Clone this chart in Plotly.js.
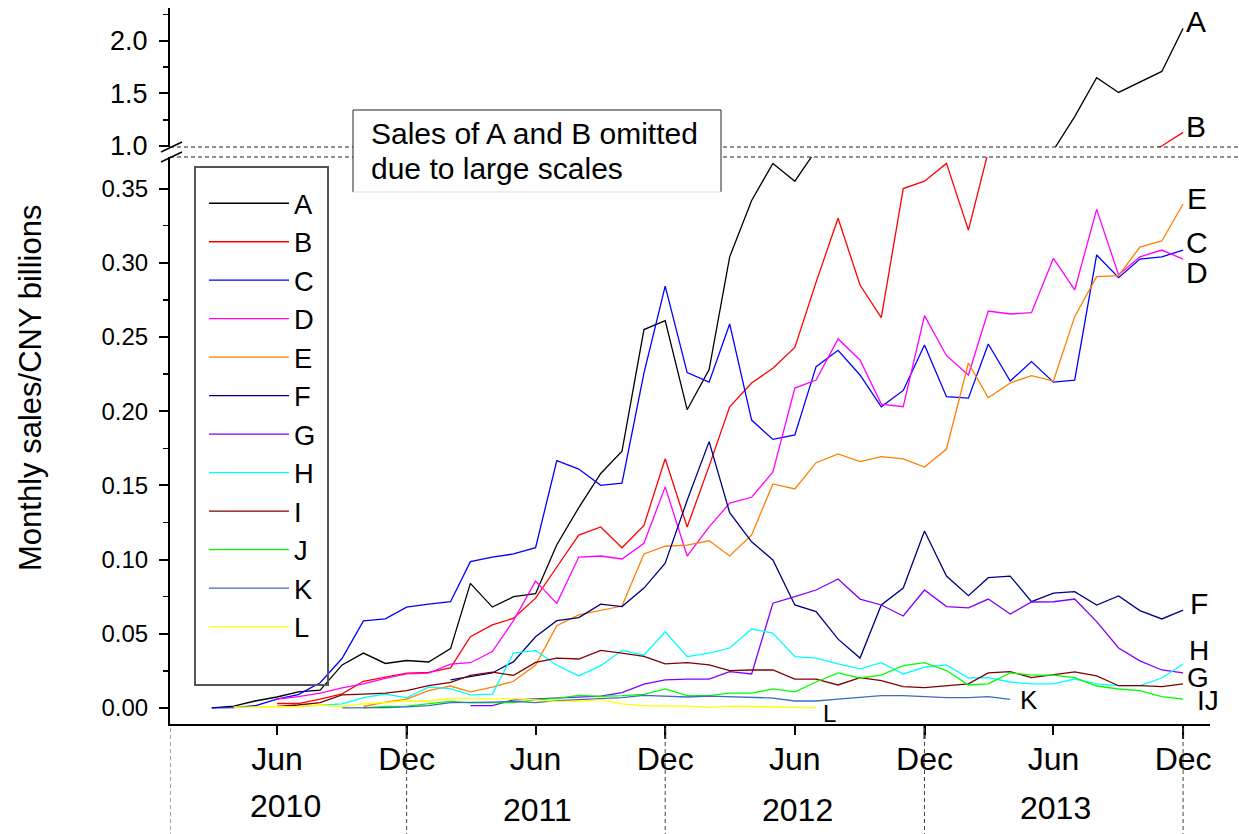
<!DOCTYPE html>
<html>
<head>
<meta charset="utf-8">
<script src="https://cdn.plot.ly/plotly-3.0.1.min.js"></script>
<style>
  html, body { margin: 0; padding: 0; background: #fff; }
  #chart { width: 1239px; height: 834px; }
</style>
</head>
<body>
<div id="chart"></div>
<script>
// ---- Data (monthly, Mar 2010 .. Dec 2013), CNY billions ----
const months = [
  "2010-03","2010-04","2010-05","2010-06","2010-07","2010-08","2010-09","2010-10","2010-11","2010-12",
  "2011-01","2011-02","2011-03","2011-04","2011-05","2011-06","2011-07","2011-08","2011-09","2011-10","2011-11","2011-12",
  "2012-01","2012-02","2012-03","2012-04","2012-05","2012-06","2012-07","2012-08","2012-09","2012-10","2012-11","2012-12",
  "2013-01","2013-02","2013-03","2013-04","2013-05","2013-06","2013-07","2013-08","2013-09","2013-10","2013-11","2013-12"
];
const seriesNames = ["A","B","C","D","E","F","G","H","I","J","K","L"];
const seriesA = [0.000,0.0013,0.0047,0.0074,0.0108,0.012,0.029,0.037,0.030,0.032,
  0.031,0.040,0.084,0.068,0.075,0.077,0.110,0.135,0.158,0.173,0.255,0.261,
  0.201,0.228,0.304,0.342,0.367,0.355,0.376,0.43,0.47,0.52,0.57,0.63,
  0.66,0.72,0.78,0.84,0.90,0.96,1.28,1.65,1.51,1.61,1.71,2.12];
const seriesB = [null,null,null,0.003,0.003,0.006,0.0095,0.018,0.021,0.0235,
  0.024,0.027,0.048,0.056,0.0605,0.074,0.095,0.1165,0.122,0.108,0.123,0.168,
  0.122,0.163,0.203,0.219,0.229,0.243,0.287,0.330,0.285,0.263,0.350,0.355,
  0.367,0.322,0.375,0.45,0.52,0.59,0.66,0.74,0.83,0.93,1.00,1.13];
const seriesC = [0.000,0.0003,0.0015,0.006,0.009,0.017,0.0335,0.0587,0.060,0.068,
  0.070,0.0716,0.0986,0.1017,0.1038,0.108,0.1667,0.161,0.150,0.1515,0.2256,0.2843,
  0.226,0.2196,0.2588,0.194,0.181,0.184,0.230,0.241,0.2244,0.203,0.214,0.2446,
  0.2098,0.2088,0.2453,0.2203,0.2334,0.2196,0.221,0.3053,0.290,0.3025,0.304,0.3086];
const seriesD = [null,null,null,0.006,0.0076,0.010,0.0135,0.0162,0.020,0.023,
  0.0235,0.0296,0.0305,0.038,0.059,0.0855,0.0705,0.1017,0.1024,0.1004,0.111,0.149,
  0.1024,0.122,0.138,0.142,0.159,0.2156,0.221,0.2487,0.2345,0.2048,0.203,0.2644,
  0.2374,0.2244,0.2675,0.2655,0.2664,0.303,0.2817,0.336,0.2918,0.304,0.3086,0.3025];
const seriesE = [null,null,null,null,null,null,null,0.001,0.004,0.006,
  0.0117,0.0148,0.0108,0.014,0.018,0.029,0.0555,0.0627,0.0656,0.0687,0.1038,0.109,
  0.1098,0.1127,0.1024,0.1166,0.151,0.1476,0.1653,0.1712,0.166,0.1694,0.1678,0.1624,
  0.1745,0.2325,0.209,0.219,0.224,0.2203,0.2637,0.2907,0.2913,0.3106,0.3147,0.3396];
const seriesF = [null,null,null,null,null,null,null,null,null,null,
  null,0.019,0.021,0.0236,0.0312,0.048,0.0588,0.0609,0.070,0.0683,0.0808,0.0975,
  0.140,0.1795,0.1316,0.112,0.0997,0.0694,0.065,0.0464,0.0336,0.0694,0.0808,0.1193,
  0.0889,0.0757,0.0878,0.0889,0.0716,0.0774,0.0784,0.0694,0.0755,0.0656,0.060,0.066];
const seriesG = [null,null,null,null,null,null,null,null,null,null,
  null,null,0.0016,0.0016,0.0054,0.006,0.0065,0.0076,0.008,0.0103,0.016,0.0189,
  0.0195,0.0195,0.0245,0.0229,0.0706,0.075,0.0795,0.0869,0.0734,0.0694,0.062,0.0795,
  0.0683,0.0674,0.0734,0.0633,0.0714,0.0716,0.0734,0.0582,0.0404,0.0317,0.0256,0.0236];
const seriesH = [null,null,null,null,0.001,0.002,0.0027,0.007,0.0094,0.0068,
  0.014,0.013,0.0088,0.0094,0.037,0.0388,0.0288,0.0216,0.0285,0.0388,0.0357,0.0514,
  0.0346,0.037,0.0404,0.0532,0.0505,0.0346,0.0336,0.0297,0.0263,0.0305,0.0229,0.0276,
  0.029,0.0202,0.0204,0.0175,0.0162,0.0162,0.0195,0.0162,0.015,0.015,0.0202,0.0296];
const seriesI = [null,null,null,0.001,0.002,0.0036,0.0088,0.0094,0.010,0.0117,
  0.015,0.0172,0.022,0.0241,0.022,0.0307,0.0336,0.033,0.0388,0.037,0.0348,0.0297,
  0.0305,0.029,0.0252,0.0256,0.0256,0.0195,0.0195,0.0155,0.0204,0.0184,0.0144,0.0137,
  0.0148,0.0162,0.0236,0.0245,0.0204,0.0222,0.0243,0.0216,0.015,0.015,0.0144,0.0162];
const seriesJ = [null,null,null,null,null,null,null,0.000,0.001,0.0012,
  0.0027,0.0045,0.0034,0.0034,0.0036,0.0054,0.0065,0.0085,0.0078,0.0083,0.0092,0.0128,
  0.0083,0.0083,0.010,0.010,0.0128,0.0108,0.0175,0.0236,0.0202,0.0222,0.0285,0.0305,
  0.0252,0.0155,0.0162,0.0236,0.0222,0.0222,0.0204,0.0148,0.0128,0.0117,0.0076,0.006];
const seriesK = [null,null,null,null,null,null,0.000,0.000,0.0003,0.0007,
  0.0016,0.0036,0.0036,0.004,0.0045,0.0036,0.005,0.0056,0.0063,0.007,0.0085,0.0078,
  0.0074,0.008,0.0076,0.0076,0.0067,0.0047,0.0047,0.006,0.007,0.0083,0.0083,0.0076,
  0.007,0.007,0.0076,0.0058,null,null,null,null,null,null,null,null];
const seriesL = [null,0.0005,0.0007,0.0007,0.001,0.002,0.001,0.0027,0.0036,0.0047,
  0.0047,0.0065,0.0065,0.006,0.0063,0.0056,0.0045,0.0045,0.0056,0.0027,0.0016,0.0013,
  0.0013,0.0004,0.0013,0.0010,0.0008,0.0001,0.0,null,null,null,null,null,null,
  null,null,null,null,null,null,null,null,null,null,null];

const xTickVals = ["2010-06-01","2010-12-01","2011-06-01","2011-12-01","2012-06-01","2012-12-01","2013-06-01","2013-12-01"];
const xTickText = ["Jun","Dec","Jun","Dec","Jun","Dec","Jun","Dec"];
const decTicks = ["2010-12-01","2011-12-01","2012-12-01","2013-12-01"];
const yearSeparators = ["2010-01-01","2010-12-01","2011-12-01","2012-12-01","2013-12-01"];
const years = ["2010","2011","2012","2013"];
const noteLines = ["Sales of A and B omitted", "due to large scales"];
const yTitle = "Monthly sales/CNY billions";

// ---- Styling ----
const FONT = "Liberation Sans, Arial, Helvetica, sans-serif";
const colors = ["#000000","#FF0000","#0000FF","#FF00FF","#FF8000","#000080",
                "#8000FF","#00FFFF","#800000","#00FF00","#3A6FBF","#FFFF00"];
const allSeries = [seriesA,seriesB,seriesC,seriesD,seriesE,seriesF,seriesG,seriesH,seriesI,seriesJ,seriesK,seriesL];

// pixel helpers for paper coords (plot area: x 170..1210, y 8..724)
const L = 170, R = 1210, T = 8, B = 724;
const px = v => (v - L) / (R - L);
const py = v => (B - v) / (B - T);

const traces = [];
allSeries.forEach((s, i) => {
  traces.push({
    x: months, y: s, name: seriesNames[i], type: "scatter", mode: "lines",
    line: {color: colors[i], width: 1.3}, xaxis: "x", yaxis: "y",
    connectgaps: false, hoverinfo: "x+y+name"
  });
});
// Upper (broken) panel for A and B
[0, 1].forEach(i => {
  traces.push({
    x: months, y: allSeries[i], name: seriesNames[i], type: "scatter", mode: "lines",
    line: {color: colors[i], width: 1.3}, xaxis: "x", yaxis: "y2",
    showlegend: false, hoverinfo: "x+y+name"
  });
});

const shapes = [];
// dashed break lines
[147, 157].forEach(yy => shapes.push({
  type: "line", xref: "paper", yref: "paper", x0: 0, x1: px(1239), y0: py(yy), y1: py(yy),
  line: {color: "#222", width: 1.2, dash: "4px,3px"}
}));
// note box (white) covering dashed lines
shapes.push({type: "rect", xref: "paper", yref: "paper", x0: px(353), x1: px(721), y0: py(192), y1: py(110),
  fillcolor: "#fff", line: {width: 0}, layer: "above"});
shapes.push({type: "line", xref: "paper", yref: "paper", x0: px(353), x1: px(721), y0: py(110), y1: py(110), line: {color: "#222", width: 1}});
shapes.push({type: "line", xref: "paper", yref: "paper", x0: px(353), x1: px(353), y0: py(110), y1: py(192), line: {color: "#222", width: 1}});
shapes.push({type: "line", xref: "paper", yref: "paper", x0: px(721), x1: px(721), y0: py(110), y1: py(192), line: {color: "#222", width: 1}});
shapes.push({type: "line", xref: "paper", yref: "paper", x0: px(353), x1: px(721), y0: py(192), y1: py(192), line: {color: "#ddd", width: 1}});
// break slashes on the y axis
[[152, 142], [162, 152]].forEach(p => shapes.push({
  type: "line", xref: "paper", yref: "paper", x0: px(161), x1: px(182), y0: py(p[0]), y1: py(p[1]),
  line: {color: "#000", width: 1.5}
}));
// legend frame
shapes.push({type: "rect", xref: "paper", yref: "paper", x0: px(195), x1: px(328), y0: py(685), y1: py(167),
  fillcolor: "rgba(0,0,0,0)", line: {color: "#555", width: 2}});
// longer Dec ticks
decTicks.forEach(d => shapes.push({
  type: "line", xref: "x", yref: "paper", x0: d, x1: d, y0: 0, y1: py(739),
  line: {color: "#000", width: 2}
}));
// year separators below axis
yearSeparators.forEach(d => shapes.push({
  type: "line", xref: "x", yref: "paper", x0: d, x1: d, y0: py(728), y1: py(834),
  line: {color: "#444", width: 1, dash: "4px,3px"}
}));

const annotations = [];
const noteY = [133, 168];
noteLines.forEach((t, i) => annotations.push({
  xref: "paper", yref: "paper", x: px(369), y: py(noteY[i]), xanchor: "left", yanchor: "middle",
  text: t, align: "left", showarrow: false,
  font: {family: FONT, size: 30, color: "#000"}
}));
annotations.push({
  xref: "paper", yref: "paper", x: px(30), y: py(388), xanchor: "center", yanchor: "middle",
  text: yTitle, textangle: -90, showarrow: false,
  font: {family: FONT, size: 31, color: "#000"}
});
const yearX = [285, 537, 797, 1055], yearY = [806, 810, 810, 808];
years.forEach((yr, i) => annotations.push({
  xref: "paper", yref: "paper", x: px(yearX[i]), y: py(yearY[i]), xanchor: "center", yanchor: "middle",
  text: yr, showarrow: false, font: {family: FONT, size: 32, color: "#000"}
}));
// end-of-line labels
const endLabels = [
  ["A", 1196, 21, 30], ["B", 1196, 126, 30], ["E", 1197, 198, 30], ["C", 1197, 242, 30], ["D", 1197, 273, 30],
  ["F", 1199, 603, 30], ["H", 1199, 650, 28], ["G", 1198, 677, 28], ["IJ", 1208, 700, 28],
  ["K", 1029, 700, 26], ["L", 829, 713, 24]
];
endLabels.forEach(e => annotations.push({
  xref: "paper", yref: "paper", x: px(e[1]), y: py(e[2]), xanchor: "center", yanchor: "middle",
  text: e[0], showarrow: false, font: {family: FONT, size: e[3], color: "#000"}
}));

const axisCommon = {
  showline: true, linecolor: "#000", linewidth: 2, ticks: "outside", tickcolor: "#000",
  tickwidth: 2, showgrid: false, zeroline: false, tickfont: {family: FONT, size: 24, color: "#000"}
};

const layout = {
  width: 1239, height: 834,
  margin: {l: L, r: 1239 - R, t: T, b: 834 - B, pad: 0},
  paper_bgcolor: "#fff", plot_bgcolor: "#fff",
  showlegend: true,
  legend: {
    x: px(204), y: py(179), xanchor: "left", yanchor: "top",
    bgcolor: "rgba(0,0,0,0)", borderwidth: 0,
    font: {family: FONT, size: 27.3, color: "#000"}, itemwidth: 80, tracegroupgap: 0
  },
  xaxis: Object.assign({}, axisCommon, {
    type: "date", range: ["2010-01-01", "2014-01-08"], anchor: "y",
    tickmode: "array", tickvals: xTickVals, ticktext: xTickText, ticklen: 9,
    ticklabelstandoff: -3, tickfont: {family: FONT, size: 32, color: "#000"}
  }),
  yaxis: Object.assign({}, axisCommon, {
    domain: [0, py(157)], range: [-0.0108, 0.3713], anchor: "x",
    tick0: 0, dtick: 0.05, tickformat: ".2f", ticklen: 9, ticklabelstandoff: 6,
    minor: {ticks: "outside", dtick: 0.025, ticklen: 5, tickwidth: 1.5, tickcolor: "#000"}
  }),
  yaxis2: Object.assign({}, axisCommon, {
    domain: [py(147), 1], range: [0.9905, 2.314], anchor: "x",
    tick0: 1, dtick: 0.5, tickformat: ".1f", ticklen: 9, ticklabelstandoff: 6,
    tickfont: {family: FONT, size: 27, color: "#000"},
    minor: {ticks: "outside", dtick: 0.25, ticklen: 5, tickwidth: 1.5, tickcolor: "#000"}
  }),
  shapes: shapes,
  annotations: annotations
};

Plotly.newPlot("chart", traces, layout, {displayModeBar: false, staticPlot: true});
</script>
</body>
</html>
